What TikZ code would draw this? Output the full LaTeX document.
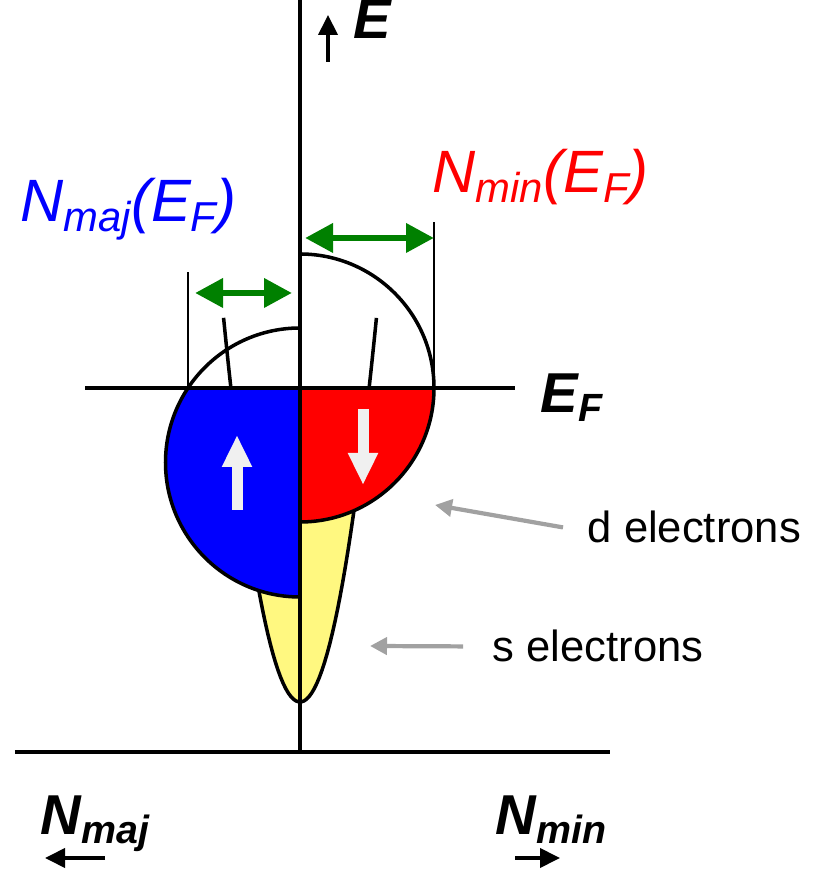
\documentclass[tikz,border=0pt]{standalone}
\usepackage{fontspec}
\setmainfont{Liberation Sans}
\usepackage{graphicx}
\usetikzlibrary{arrows.meta,calc}

\newcommand{\lsub}[1]{\raisebox{-0.16em}{\scalebox{0.7}{#1}}}

\begin{document}
\begin{tikzpicture}[>=Latex,
  axis/.style={line width=1.4pt},
  band/.style={line width=1pt},
  guide/.style={line width=0.4pt},
  dosarr/.style={green!50!black,line width=1.9pt,{Triangle[length=2.8mm,width=2.8mm]}-{Triangle[length=2.8mm,width=2.8mm]}},
  spinarr/.style={black!6,line width=1.1mm,-{Triangle[length=3.2mm,width=2.8mm]}},
  ptr/.style={black!37,line width=1.2pt,-{Triangle[length=1.7mm,width=1.7mm]}},
  dirarr/.style={line width=1.1pt,-{Triangle[length=2mm,width=1.9mm]}},
  biglab/.style={font=\fontsize{17}{20}\selectfont\itshape,anchor=base west,inner sep=0pt},
  axlab/.style={font=\fontsize{16}{19}\selectfont\bfseries\itshape,anchor=base west,inner sep=0pt},
  txtlab/.style={font=\fontsize{12.4}{15}\selectfont,anchor=base west,inner sep=0pt}]
\useasboundingbox (0,0) rectangle (8.21,8.76);
\coordinate (O) at (3,4.88); \coordinate (Cmaj) at (3,4.135); \coordinate (Cmin) at (3,4.88);
% s band (parabola)
\fill[yellow!50] plot[domain=-1.772:1.772,samples=40] ({3+0.39*\x},{1.74+\x*\x}) -- cycle;
\draw[band] plot[domain=-1.96:1.96,samples=60] ({3+0.39*\x},{1.74+\x*\x});
% d bands, filled up to E_F
\fill[blue] (O) -- ($(Cmaj)+(146.4:1.345)$) arc[start angle=146.4,end angle=270,radius=1.345] -- cycle;
\fill[red] (O) -- ($(Cmin)+(0:1.34)$) arc[start angle=0,end angle=-90,radius=1.34] -- cycle;
\draw[band] ($(Cmaj)+(0,1.345)$) arc[start angle=90,end angle=270,radius=1.345];
\draw[band] ($(Cmin)+(0,1.34)$) arc[start angle=90,end angle=-90,radius=1.34];
\draw[guide] (1.88,4.88) -- (1.88,6.04);
\draw[guide] (4.34,4.88) -- (4.34,6.54);
% axes
\draw[axis] (3,1.24) -- (3,8.76);
\draw[axis] (0.15,1.24) -- (6.10,1.24);
\draw[axis] (0.85,4.88) -- (5.15,4.88);
% spins
\draw[spinarr] (2.37,3.66) -- (2.37,4.41);
\draw[spinarr] (3.63,4.67) -- (3.63,3.91);
% N(E_F)
\draw[dosarr] (1.95,5.83) -- (2.92,5.83);
\draw[dosarr] (3.05,6.38) -- (4.34,6.38);
\node[biglab,blue] (majEF) at (0.20,6.54) {N\lsub{maj}(E\lsub{F})};
\node[biglab,red] (minEF) at (4.32,6.83) {N\lsub{min}(E\lsub{F})};
% axis labels
\node[axlab] (E) at (3.53,8.37) {E};
\node[axlab] (EF) at (5.40,4.63) {E\lsub{F}};
\node[axlab] (Nmaj) at (0.40,0.41) {N\lsub{maj}};
\node[axlab] (Nmin) at (4.95,0.41) {N\lsub{min}};
\coordinate (Eb) at (3.28,8.14); \coordinate (Et) at (3.28,8.61);
\draw[dirarr] (Eb) -- (Et);
\coordinate (majR) at (1.05,0.18); \coordinate (majL) at (0.45,0.18);
\draw[dirarr] (majR) -- (majL);
\coordinate (minL) at (5.15,0.18); \coordinate (minR) at (5.60,0.18);
\draw[dirarr] (minL) -- (minR);
% pointers
\node[txtlab] (dlab) at (5.87,3.33) {d electrons};
\node[txtlab] (slab) at (4.92,2.14) {s electrons};
\coordinate (dtip) at (4.35,3.71); \coordinate (stip) at (3.70,2.30);
\draw[ptr] ([xshift=-2.4mm]dlab.west) -- (dtip);
\draw[ptr] ([xshift=-2.9mm]slab.west) -- (stip);
\end{tikzpicture}
\end{document}
